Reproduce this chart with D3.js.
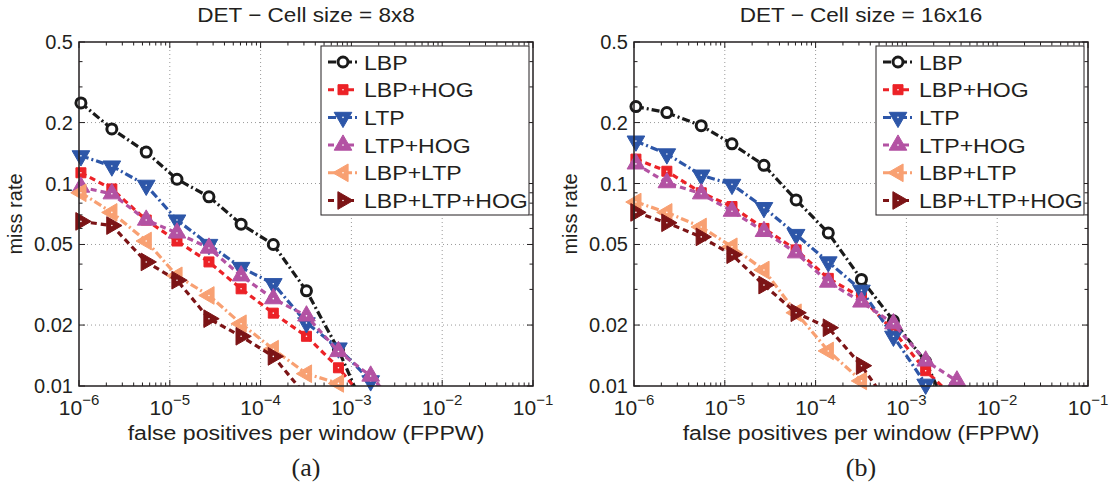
<!DOCTYPE html>
<html>
<head>
<meta charset="utf-8">
<script src="https://cdn.jsdelivr.net/npm/d3@7"></script>
<style>
body { margin: 0; background: #fff; }
text { font-family: "Liberation Sans", Arial, Helvetica, sans-serif; fill: #231f20; }
</style>
</head>
<body>
<svg id="drawing_region"></svg>
<script>
// data
const series_names = ['LBP', 'LBP+HOG', 'LTP', 'LTP+HOG', 'LBP+LTP', 'LBP+LTP+HOG'];
const fppw = [1.05e-6, 2.3e-6, 5.5e-6, 1.2e-5, 2.7e-5, 6.1e-5, 1.38e-4, 3.2e-4, 7.2e-4, 1.63e-3, 3.6e-3, 8e-3];

// cell size 8x8
const lbp_8 = [0.25, 0.186, 0.143, 0.105, 0.086, 0.063, 0.05, 0.0295, 0.0151, 0.0065];
const lbp_hog_8 = [0.113, 0.094, 0.066, 0.052, 0.041, 0.0302, 0.0229, 0.0176, 0.0123, 0.0079];
const ltp_8 = [0.137, 0.122, 0.098, 0.066, 0.05, 0.0385, 0.032, 0.0205, 0.0154, 0.0106, 0.007];
const ltp_hog_8 = [0.096, 0.089, 0.066, 0.057, 0.048, 0.035, 0.027, 0.0222, 0.0148, 0.0112, 0.0075];
const lbp_ltp_8 = [0.09, 0.072, 0.052, 0.035, 0.028, 0.0203, 0.0152, 0.0115, 0.0103, 0.007];
const lbp_ltp_hog_8 = [0.065, 0.062, 0.041, 0.0333, 0.0215, 0.0176, 0.014, 0.0089];

// cell size 16x16
const lbp_16 = [0.24, 0.224, 0.193, 0.157, 0.123, 0.083, 0.057, 0.0336, 0.021, 0.0132, 0.006];
const lbp_hog_16 = [0.132, 0.115, 0.09, 0.077, 0.06, 0.047, 0.034, 0.0274, 0.0187, 0.0119, 0.0085];
const ltp_16 = [0.162, 0.14, 0.11, 0.099, 0.076, 0.056, 0.041, 0.0297, 0.0176, 0.0102, 0.006];
const ltp_hog_16 = [0.125, 0.101, 0.089, 0.073, 0.058, 0.0455, 0.0326, 0.026, 0.0203, 0.0133, 0.0106, 0.007];
const lbp_ltp_16 = [0.081, 0.072, 0.061, 0.0487, 0.0374, 0.023, 0.0149, 0.0106, 0.006];
const lbp_ltp_hog_16 = [0.072, 0.064, 0.0545, 0.0445, 0.0315, 0.023, 0.0194, 0.0126, 0.0075];

const y_major = [0.01, 0.02, 0.05, 0.1, 0.2, 0.5];
const y_labels = ['0.01', '0.02', '0.05', '0.1', '0.2', '0.5'];
const x_major = [1e-6, 1e-5, 1e-4, 1e-3, 1e-2, 1e-1];
const x_exps = ['−6', '−5', '−4', '−3', '−2', '−1'];

// styles
const colors = ['#1a1a1a', '#ec2227', '#2d56a8', '#b352a3', '#f8a072', '#7c1416'];
const dashes = ['8,3,2,3', '6,4', '8,3,2,3', '6,4', '8,3,2,3', '6,4'];
const markers = ['circle', 'square', 'down', 'up', 'left', 'right'];

const panels = [
    { title: 'DET − Cell size = 8x8', caption: '(a)', left: 79,
      values: [lbp_8, lbp_hog_8, ltp_8, ltp_hog_8, lbp_ltp_8, lbp_ltp_hog_8] },
    { title: 'DET − Cell size = 16x16', caption: '(b)', left: 634,
      values: [lbp_16, lbp_hog_16, ltp_16, ltp_hog_16, lbp_ltp_16, lbp_ltp_hog_16] },
];

const W = 1119, H = 491;
const svg = d3.select('#drawing_region').attr('width', W).attr('height', H);

const plot_w = 454, plot_h = 344, plot_top = 42;

// text slightly widened, as in the original figure
function wideText(parent, x, y, str, size, anchor, sx) {
    return parent.append('text')
        .attr('transform', `translate(${x}, ${y}) scale(${sx}, 1)`)
        .attr('text-anchor', anchor)
        .attr('font-size', size + 'px')
        .text(str);
}

function drawMarker(g, type, color) {
    if (type === 'circle') {
        g.append('circle').attr('r', 5)
            .attr('fill', '#fff').attr('stroke', color).attr('stroke-width', 3);
        return;
    }
    let sym = type === 'square' ? d3.symbolSquare : d3.symbolTriangle;
    let size = type === 'square' ? 100 : 135;
    let rot = { square: 0, up: 0, down: 180, left: -90, right: 90 }[type];
    g.append('path')
        .attr('d', d3.symbol().type(sym).size(size)())
        .attr('transform', `rotate(${rot})`)
        .attr('fill', color)
        .attr('stroke', color)
        .attr('stroke-width', 1);
    g.append('circle').attr('r', 0.8).attr('fill', '#fff');
}

panels.forEach((p, pi) => {
    const xscale = d3.scaleLog().domain([1e-6, 1e-1]).range([0, plot_w]);
    const yscale = d3.scaleLog().domain([0.01, 0.5]).range([plot_h, 0]);

    const chart = svg.append('g').attr('transform', `translate(${p.left}, ${plot_top})`);

    // grid
    chart.selectAll('.xgrid').data(x_major.slice(1, -1)).enter()
        .append('line')
        .attr('x1', d => xscale(d)).attr('x2', d => xscale(d))
        .attr('y1', 0).attr('y2', plot_h)
        .attr('stroke', '#9a9a9a').attr('stroke-width', 1).attr('stroke-dasharray', '1,3');
    chart.selectAll('.ygrid').data(y_major.slice(1, -1)).enter()
        .append('line')
        .attr('x1', 0).attr('x2', plot_w)
        .attr('y1', d => yscale(d)).attr('y2', d => yscale(d))
        .attr('stroke', '#9a9a9a').attr('stroke-width', 1).attr('stroke-dasharray', '1,3');

    // ticks (inward, all four sides)
    const x_minor = xscale.ticks().filter(d => !x_major.some(m => Math.abs(m - d) / m < 1e-6));
    const y_minor = yscale.ticks().filter(d => !y_major.some(m => Math.abs(m - d) / m < 1e-6));

    const tickgroup = chart.append('g').attr('stroke', '#231f20').attr('stroke-width', 1);
    [[x_major, 6], [x_minor, 3.5]].forEach(([vals, len]) => {
        vals.forEach(v => {
            const xx = xscale(v);
            tickgroup.append('line').attr('x1', xx).attr('x2', xx).attr('y1', plot_h).attr('y2', plot_h - len);
            tickgroup.append('line').attr('x1', xx).attr('x2', xx).attr('y1', 0).attr('y2', len);
        });
    });
    [[y_major, 6], [y_minor, 3.5]].forEach(([vals, len]) => {
        vals.forEach(v => {
            const yy = yscale(v);
            tickgroup.append('line').attr('y1', yy).attr('y2', yy).attr('x1', 0).attr('x2', len);
            tickgroup.append('line').attr('y1', yy).attr('y2', yy).attr('x1', plot_w).attr('x2', plot_w - len);
        });
    });

    // tick labels
    y_major.forEach((v, i) => {
        chart.append('text')
            .attr('x', -6).attr('y', yscale(v))
            .attr('text-anchor', 'end').attr('dominant-baseline', 'central')
            .attr('font-size', '20px')
            .text(y_labels[i]);
    });
    x_major.forEach((v, i) => {
        const t = chart.append('text')
            .attr('x', xscale(v)).attr('y', plot_h + 29)
            .attr('text-anchor', 'middle')
            .attr('font-size', '21px');
        t.append('tspan').text('10');
        t.append('tspan').attr('dy', -10).attr('font-size', '15px').text(x_exps[i]);
    });

    // axis titles
    wideText(chart, plot_w / 2, plot_h + 54, 'false positives per window (FPPW)', 21, 'middle', 1.1);
    chart.append('text')
        .attr('transform', `translate(${-57}, ${plot_h / 2}) rotate(-90)`)
        .attr('text-anchor', 'middle').attr('font-size', '20px')
        .text('miss rate');
    wideText(chart, plot_w / 2, -20, p.title, 20.5, 'middle', 1.1);
    wideText(chart, plot_w / 2, plot_h + 90, p.caption, 26, 'middle', 1)
        .style('font-family', '"Liberation Serif", "DejaVu Serif", serif');

    // clip
    chart.append('clipPath').attr('id', 'clip' + pi)
        .append('rect').attr('width', plot_w).attr('height', plot_h);

    const line = d3.line()
        .x((d, i) => xscale(fppw[i]))
        .y(d => yscale(d));

    p.values.forEach((vals, si) => {
        chart.append('path')
            .attr('d', line(vals))
            .attr('clip-path', `url(#clip${pi})`)
            .attr('fill', 'none')
            .attr('stroke', colors[si])
            .attr('stroke-width', 3.2)
            .attr('stroke-dasharray', dashes[si]);
        vals.forEach((v, i) => {
            if (v < 0.01) return;
            const g = chart.append('g')
                .attr('transform', `translate(${xscale(fppw[i])}, ${yscale(v)})`);
            drawMarker(g, markers[si], colors[si]);
        });
    });

    // box
    chart.append('rect')
        .attr('width', plot_w).attr('height', plot_h)
        .attr('fill', 'none').attr('stroke', '#231f20').attr('stroke-width', 1.5);

    // legend
    const legend = chart.append('g').attr('transform', `translate(${plot_w - 212}, 4)`);
    legend.append('rect')
        .attr('width', 208).attr('height', 169)
        .attr('fill', '#fff').attr('stroke', '#231f20').attr('stroke-width', 1);
    series_names.forEach((name, si) => {
        const ly = 16 + si * 27.7;
        legend.append('line')
            .attr('x1', 7).attr('x2', 37).attr('y1', ly).attr('y2', ly)
            .attr('stroke', colors[si]).attr('stroke-width', 3)
            .attr('stroke-dasharray', dashes[si]);
        drawMarker(legend.append('g').attr('transform', `translate(22, ${ly})`), markers[si], colors[si]);
        wideText(legend, 43, ly + 7.5, name, 21, 'start', 1.1);
    });
});
</script>
</body>
</html>
